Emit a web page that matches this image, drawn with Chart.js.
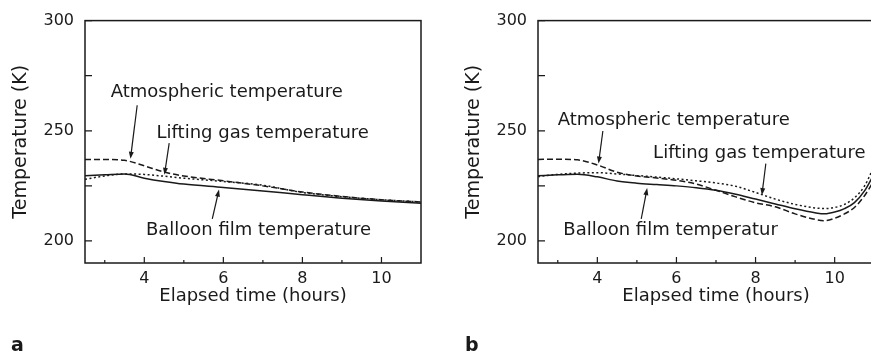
<!DOCTYPE html>
<html>
<head>
<meta charset="utf-8">
<script src="https://cdn.jsdelivr.net/npm/chart.js@4.4.1/dist/chart.umd.min.js"></script>
<style>
    html, body { margin: 0; padding: 0; background: #fff; overflow: hidden; width: 871px; height: 357px; }
    .panel { position: absolute; top: 0; height: 357px; }
    #wrapA { left: 0; width: 430px; }
    #wrapB { left: 453px; width: 450px; }
    .tag { position: absolute; top: 335px; font: bold 19px "DejaVu Sans", sans-serif; line-height: 19px; color: #1a1a1a; }
</style>
</head>
<body>
<div class="panel" id="wrapA"><canvas id="chartA"></canvas></div>
<div class="panel" id="wrapB"><canvas id="chartB"></canvas></div>
<div class="tag" style="left:11px">a</div>
<div class="tag" style="left:465px">b</div>
<script>
// ==========================================================================
// Data (K vs hours)
// ==========================================================================

const timeA = [2.5, 3, 3.5, 4, 4.5, 5, 6, 7, 8, 9, 10, 11];
const atmosA = [237.0, 237.0, 236.6, 234.1, 231.3, 229.5, 227.3, 225.0, 222.2, 220.2, 218.7, 217.7];
const liftingA = [228.0, 229.5, 230.4, 230.2, 229.4, 228.5, 227.0, 225.3, 222.0, 220.1, 218.7, 217.7];
const balloonA = [229.6, 230.0, 230.4, 228.5, 227.0, 225.8, 224.3, 222.7, 221.0, 219.4, 218.1, 217.1];

const timeB = [2.5, 3, 3.5, 4, 4.5, 5, 5.5, 6, 6.5, 7, 7.5, 8, 8.5, 9, 9.5, 9.75, 10, 10.25, 10.5, 10.75, 11];
const atmosB = [237.0, 237.1, 236.8, 234.5, 231.2, 229.5, 228.6, 227.5, 225.8, 223.0, 220.0, 217.3, 215.5, 212.3, 209.8, 209.2, 210.3, 212.3, 215.2, 220.4, 227.5];
const liftingB = [229.2, 230.2, 230.8, 231.0, 230.4, 229.7, 229.0, 228.2, 227.3, 226.3, 224.8, 222.0, 219.0, 216.6, 215.0, 214.7, 215.2, 216.6, 219.6, 224.8, 234.0];
const balloonB = [229.6, 230.0, 230.3, 229.1, 227.2, 226.2, 225.6, 225.0, 224.2, 223.0, 221.2, 219.0, 216.8, 214.6, 212.8, 212.3, 213.1, 214.7, 217.4, 222.6, 230.5];

const xMajorTicks = [4, 6, 8, 10];
const xMinorTicks = [3, 5, 7, 9];
const yMajorTicks = [200, 250, 300];
const yMinorTicks = [225, 275];

const seriesNames = ['Atmospheric temperature', 'Lifting gas temperature', 'Balloon film temperature'];

// text labels + arrows, in data coordinates
const notesA = [
    { text: 'Atmospheric temperature', x: 3.15, y: 265.4, from: [3.82, 261.6], to: [3.65, 237.3] },
    { text: 'Lifting gas temperature', x: 4.31, y: 246.5, from: [4.63, 244.4], to: [4.51, 230.0] },
    { text: 'Balloon film temperature', x: 4.04, y: 202.7, from: [5.72, 210.0], to: [5.89, 223.3] }
];
const notesB = [
    { text: 'Atmospheric temperature', x: 3.0, y: 252.8, from: [4.14, 249.9], to: [4.03, 235.1] },
    { text: 'Lifting gas temperature', x: 5.41, y: 237.6, from: [8.26, 235.1], to: [8.16, 220.8] },
    { text: 'Balloon film temperatur', x: 3.14, y: 202.7, from: [5.11, 210.0], to: [5.26, 224.0] }
];

const INK = '#1a1a1a';
const FONT = '"DejaVu Sans", sans-serif';

// frame + inward ticks
const frameTicks = {
    id: 'frameTicks',
    afterDraw(chart) {
        const { ctx, chartArea: a, scales: { x, y } } = chart;
        ctx.save();
        ctx.strokeStyle = INK;
        ctx.lineWidth = 1.5;
        ctx.strokeRect(a.left, a.top, a.right - a.left, a.bottom - a.top);

        ctx.lineWidth = 1.2;
        ctx.beginPath();
        xMajorTicks.forEach(v => {
            const px = x.getPixelForValue(v);
            ctx.moveTo(px, a.bottom); ctx.lineTo(px, a.bottom - 6);
        });
        xMinorTicks.forEach(v => {
            const px = x.getPixelForValue(v);
            ctx.moveTo(px, a.bottom); ctx.lineTo(px, a.bottom - 3);
        });
        yMajorTicks.concat(yMinorTicks).forEach(v => {
            const py = y.getPixelForValue(v);
            ctx.moveTo(a.left, py); ctx.lineTo(a.left + 7, py);
        });
        ctx.stroke();
        ctx.restore();
    }
};

// annotation texts and arrows
const notesPlugin = {
    id: 'notes',
    afterDraw(chart, args, opts) {
        const { ctx, scales: { x, y } } = chart;
        ctx.save();
        ctx.fillStyle = INK;
        ctx.strokeStyle = INK;
        ctx.font = '18px ' + FONT;
        ctx.textBaseline = 'alphabetic';
        ctx.textAlign = 'left';
        (opts.items || []).forEach(n => {
            ctx.fillText(n.text, x.getPixelForValue(n.x), y.getPixelForValue(n.y));

            const x1 = x.getPixelForValue(n.from[0]), y1 = y.getPixelForValue(n.from[1]);
            const x2 = x.getPixelForValue(n.to[0]), y2 = y.getPixelForValue(n.to[1]);
            const ang = Math.atan2(y2 - y1, x2 - x1);
            ctx.lineWidth = 1.2;
            ctx.beginPath();
            ctx.moveTo(x1, y1);
            ctx.lineTo(x2 - 5 * Math.cos(ang), y2 - 5 * Math.sin(ang));
            ctx.stroke();
            ctx.beginPath();
            ctx.moveTo(x2, y2);
            ctx.lineTo(x2 - 7 * Math.cos(ang) + 2.5 * Math.sin(ang), y2 - 7 * Math.sin(ang) - 2.5 * Math.cos(ang));
            ctx.lineTo(x2 - 7 * Math.cos(ang) - 2.5 * Math.sin(ang), y2 - 7 * Math.sin(ang) + 2.5 * Math.cos(ang));
            ctx.closePath();
            ctx.fill();
        });
        ctx.restore();
    }
};

function line(label, xs, ys, dash) {
    return {
        label: label,
        data: xs.map((t, i) => ({ x: t, y: ys[i] })),
        borderColor: INK,
        borderWidth: 1.5,
        borderDash: dash,
        pointRadius: 0,
        fill: false,
        cubicInterpolationMode: 'monotone'
    };
}

function makePanel(id, xs, atmos, lifting, balloon, notes, xMax) {
    return new Chart(document.getElementById(id), {
        type: 'line',
        data: {
            datasets: [
                line(seriesNames[0], xs, atmos, [6, 3]),
                line(seriesNames[1], xs, lifting, [2, 2.5]),
                line(seriesNames[2], xs, balloon, [])
            ]
        },
        options: {
            responsive: true,
            maintainAspectRatio: false,
            animation: false,
            layout: { padding: { left: 0, right: 9, top: 15, bottom: 40 } },
            scales: {
                x: {
                    type: 'linear',
                    min: 2.5,
                    max: xMax,
                    afterBuildTicks: s => { s.ticks = xMajorTicks.map(v => ({ value: v })); },
                    afterFit: s => { s.height = 54; },
                    grid: { display: false, drawTicks: false },
                    border: { display: false },
                    ticks: { color: INK, font: { family: FONT, size: 16 }, padding: 6, maxRotation: 0, autoSkip: false },
                    title: { display: true, text: 'Elapsed time (hours)', color: INK, font: { family: FONT, size: 18 }, padding: { top: 0, bottom: 10 } }
                },
                y: {
                    min: 190,
                    max: 300,
                    afterBuildTicks: s => { s.ticks = yMajorTicks.map(v => ({ value: v })); },
                    afterFit: s => { s.width = 85; },
                    grid: { display: false, drawTicks: false },
                    border: { display: false },
                    ticks: { color: INK, font: { family: FONT, size: 16 }, padding: 11 },
                    title: { display: true, text: 'Temperature (K)', color: INK, font: { family: FONT, size: 19 }, padding: { top: 10, bottom: 0 } }
                }
            },
            plugins: {
                legend: { display: false },
                tooltip: { enabled: false },
                notes: { items: notes }
            }
        },
        plugins: [frameTicks, notesPlugin]
    });
}

makePanel('chartA', timeA, atmosA, liftingA, balloonA, notesA, 11);
makePanel('chartB', timeB, atmosB, liftingB, balloonB, notesB, 11.5);
</script>
</body>
</html>
